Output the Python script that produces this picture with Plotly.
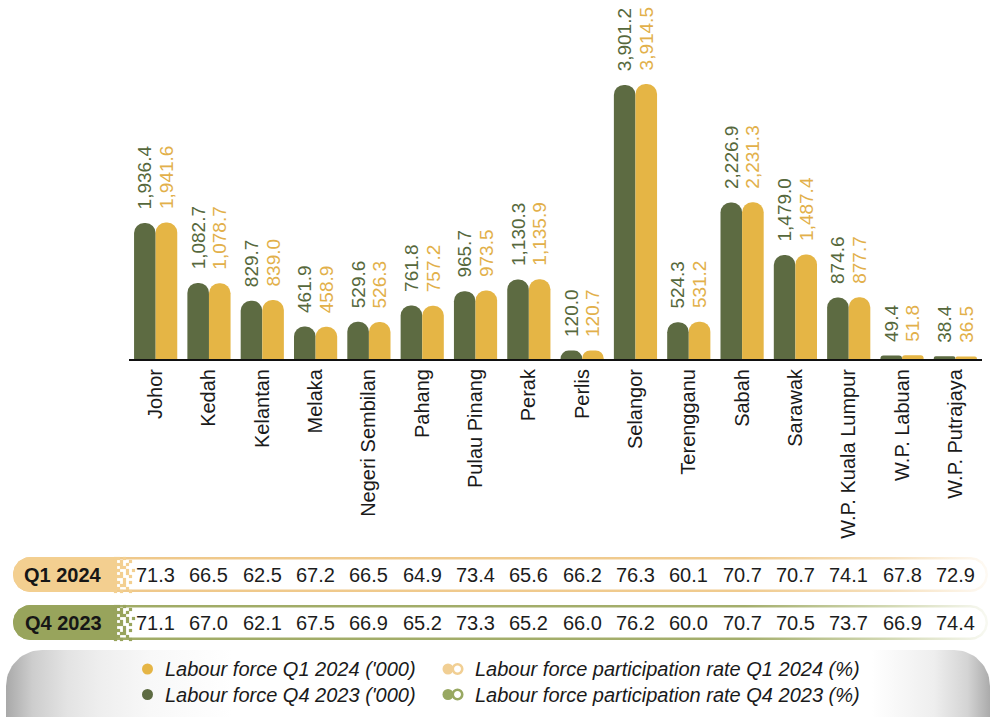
import numpy as np
import plotly.graph_objects as go

# ---- data -------------------------------------------------------------
states = ["Johor", "Kedah", "Kelantan", "Melaka", "Negeri Sembilan", "Pahang",
          "Pulau Pinang", "Perak", "Perlis", "Selangor", "Terengganu", "Sabah",
          "Sarawak", "W.P. Kuala Lumpur", "W.P. Labuan", "W.P. Putrajaya"]

labour_q4_2023 = [1936.4, 1082.7, 829.7, 461.9, 529.6, 761.8, 965.7, 1130.3,
                  120.0, 3901.2, 524.3, 2226.9, 1479.0, 874.6, 49.4, 38.4]
labour_q1_2024 = [1941.6, 1078.7, 839.0, 458.9, 526.3, 757.2, 973.5, 1135.9,
                  120.7, 3914.5, 531.2, 2231.3, 1487.4, 877.7, 51.8, 36.5]

lfpr_q1_2024 = [71.3, 66.5, 62.5, 67.2, 66.5, 64.9, 73.4, 65.6,
                66.2, 76.3, 60.1, 70.7, 70.7, 74.1, 67.8, 72.9]
lfpr_q4_2023 = [71.1, 67.0, 62.1, 67.5, 66.9, 65.2, 73.3, 65.2,
                66.0, 76.2, 60.0, 70.7, 70.5, 73.7, 66.9, 74.4]

row_labels = ["Q1 2024", "Q4 2023"]
legend_bar_labels = ["Labour force Q1 2024 ('000)", "Labour force Q4 2023 ('000)"]
legend_rate_labels = ["Labour force participation rate Q1 2024 (%)",
                      "Labour force participation rate Q4 2023 (%)"]

# ---- styling ----------------------------------------------------------
W, H = 992, 717
GREEN = "#5d6b42"
YELLOW = "#e5b545"
GREEN_TXT = "#56683c"
YELLOW_TXT = "#e2b04a"
TAN = "#f3cf90"
OLIVE = "#98a45c"
FONT = "Arial, Liberation Sans, sans-serif"
NB = "\u00a0\u00a0"


def fmt(v):
    return NB + f"{v:,.1f}"


def rounded_rect(x0, x1, y0, y1, rl, rr, n=20):
    """Closed outline of a rectangle with rounded left/right corners (y grows downward)."""
    xs, ys = [], []

    def arc(cx, cy, r, a0, a1):
        for t in np.linspace(np.radians(a0), np.radians(a1), n):
            xs.append(cx + r * np.cos(t))
            ys.append(cy + r * np.sin(t))

    arc(x1 - rr, y0 + rr, rr, -90, 0)
    arc(x1 - rr, y1 - rr, rr, 0, 90)
    arc(x0 + rl, y1 - rl, rl, 90, 180)
    arc(x0 + rl, y0 + rl, rl, 180, 270)
    xs.append(xs[0])
    ys.append(ys[0])
    return xs, ys


fig = go.Figure()

# ---- bars -------------------------------------------------------------
fig.add_trace(go.Bar(
    x=states, y=labour_q4_2023, name=legend_bar_labels[1],
    marker=dict(color=GREEN, cornerradius="50%", line=dict(width=0)),
    text=[fmt(v) for v in labour_q4_2023], textposition="outside",
    textangle=-90, textfont=dict(color=GREEN_TXT, size=19, family=FONT),
    constraintext="none", cliponaxis=False, showlegend=False, hoverinfo="skip",
))
fig.add_trace(go.Bar(
    x=states, y=labour_q1_2024, name=legend_bar_labels[0],
    marker=dict(color=YELLOW, cornerradius="50%", line=dict(width=0)),
    text=[fmt(v) for v in labour_q1_2024], textposition="outside",
    textangle=-90, textfont=dict(color=YELLOW_TXT, size=19, family=FONT),
    constraintext="none", cliponaxis=False, showlegend=False, hoverinfo="skip",
))


# ---- decorations drawn in a full-page pixel subplot ---------------------
def add_shape_trace(xs, ys, color=None, gradient=None):
    kw = dict(x=xs, y=ys, xaxis="x2", yaxis="y2", mode="lines", fill="toself",
              line=dict(width=0), hoverinfo="skip", showlegend=False)
    if gradient is not None:
        kw["fillgradient"] = dict(type="horizontal", colorscale=gradient)
    else:
        kw["fillcolor"] = color
    fig.add_trace(go.Scatter(**kw))


# legend backdrop
lx, ly = rounded_rect(6, 990, 650, 770, 36, 36)
add_shape_trace(lx, ly, gradient=[
    [0.0, "#a9a9a9"], [0.027, "#cdcdcd"], [0.062, "#e3e3e3"], [0.095, "#eeeeee"],
    [0.146, "#f8f8f8"], [0.23, "#ffffff"], [0.88, "#ffffff"], [0.943, "#eeeeee"],
    [0.977, "#d4d4d4"], [1.0, "#ababab"],
])

# participation-rate rows
rows = [
    dict(y0=557, y1=592, block=TAN,
         border=[[0, "#efc88a"], [0.75, "#f0cb8f"], [0.9, "#f6e0bd"], [1, "#fefaf4"]]),
    dict(y0=605, y1=640, block=OLIVE,
         border=[[0, "#a0ab65"], [0.75, "#a4ae6c"], [0.9, "#d3d9b4"], [1, "#f8f9f2"]]),
]
dither = [
    "##.#...",
    "#.#..#.",
    "###.#..",
    "#.##...",
    "##..#.#",
    "#.#.#..",
    "###..#.",
    "#..#...",
    "##.#.#.",
    "#.##...",
    "##..#..",
    "#.#..#.",
]
for row in rows:
    y0, y1 = row["y0"], row["y1"]
    r = (y1 - y0) / 2
    ox, oy = rounded_rect(13, 988, y0, y1, r, r)
    add_shape_trace(ox, oy, gradient=row["border"])
    ix, iy = rounded_rect(15.5, 985.5, y0 + 2.5, y1 - 2.5, r - 2.5, r - 2.5)
    add_shape_trace(ix, iy, color="#ffffff")
    bx, by = rounded_rect(13, 114, y0, y1, r, 0)
    add_shape_trace(bx, by, color=row["block"])
    dxs, dys = [], []
    for ri, line in enumerate(dither):
        for ci, ch in enumerate(line):
            if ch == "#":
                dxs.append(114 + 3 * ci + 1.5)
                dys.append(y0 + 3 * ri + 1.5)
    fig.add_trace(go.Scatter(
        x=dxs, y=dys, xaxis="x2", yaxis="y2", mode="markers",
        marker=dict(symbol="square", size=3.2, color=row["block"], line=dict(width=0)),
        hoverinfo="skip", showlegend=False,
    ))

# legend symbols
legend_rows_y = [669, 694.5]
dot_colors = [YELLOW, GREEN]
ring_colors = ["#f1cf94", "#98a862"]
for yy, dc, rc in zip(legend_rows_y, dot_colors, ring_colors):
    fig.add_trace(go.Scatter(
        x=[147.5], y=[yy], xaxis="x2", yaxis="y2", mode="markers",
        marker=dict(size=11, color=dc, line=dict(width=0)),
        hoverinfo="skip", showlegend=False,
    ))
    fig.add_trace(go.Scatter(
        x=[448], y=[yy], xaxis="x2", yaxis="y2", mode="markers",
        marker=dict(size=11, color=rc, line=dict(width=0)),
        hoverinfo="skip", showlegend=False,
    ))
    fig.add_trace(go.Scatter(
        x=[457.5], y=[yy], xaxis="x2", yaxis="y2", mode="markers",
        marker=dict(size=9.5, color="#ffffff", line=dict(width=2.6, color=rc)),
        hoverinfo="skip", showlegend=False,
    ))

# ---- text -------------------------------------------------------------
annotations = []
rows_text_y = [575, 623]
for label, vals, yy in zip(row_labels, [lfpr_q1_2024, lfpr_q4_2023], rows_text_y):
    annotations.append(dict(
        x=63, y=yy, xref="x2", yref="y2", text=f"<b>{label}</b>", showarrow=False,
        font=dict(size=20, color="#161616", family=FONT), xanchor="center", yanchor="middle",
    ))
    for st, v in zip(states, vals):
        annotations.append(dict(
            x=st, y=yy, xref="x", yref="y2", text=f"{v:.1f}", showarrow=False,
            font=dict(size=20, color="#1c1c1c", family=FONT),
            xanchor="center", yanchor="middle",
        ))

for i, yy in enumerate(legend_rows_y):
    annotations.append(dict(
        x=163, y=yy, xref="x2", yref="y2", text=legend_bar_labels[i], showarrow=False,
        font=dict(size=20, color="#1a1a1a", family=FONT, style="italic"),
        xanchor="left", yanchor="middle",
    ))
    annotations.append(dict(
        x=473, y=yy, xref="x2", yref="y2", text=legend_rate_labels[i], showarrow=False,
        font=dict(size=20, color="#1a1a1a", family=FONT, style="italic"),
        xanchor="left", yanchor="middle",
    ))

# ---- layout -----------------------------------------------------------
fig.update_layout(
    width=W, height=H,
    margin=dict(l=0, r=0, t=0, b=0, pad=0),
    paper_bgcolor="#ffffff", plot_bgcolor="rgba(0,0,0,0)",
    barmode="group", bargap=0.19, bargroupgap=0,
    font=dict(family=FONT, color="#1a1a1a"),
    xaxis=dict(
        domain=[129 / W, 982 / W], showline=True, linecolor="#111111", linewidth=2,
        tickangle=-90, tickfont=dict(size=20, color="#1a1a1a", family=FONT),
        ticks="", showgrid=False, zeroline=False, automargin=False, fixedrange=True,
    ),
    yaxis=dict(
        domain=[1 - 359 / H, 1], range=[0, 5110], visible=False,
        showgrid=False, zeroline=False, fixedrange=True,
    ),
    xaxis2=dict(domain=[0, 1], range=[0, W], visible=False, anchor="y2", fixedrange=True),
    yaxis2=dict(domain=[0, 1], range=[H, 0], visible=False, anchor="x2", fixedrange=True),
    annotations=annotations,
    showlegend=False,
)

fig.write_html("out.html", config={"displayModeBar": False})
